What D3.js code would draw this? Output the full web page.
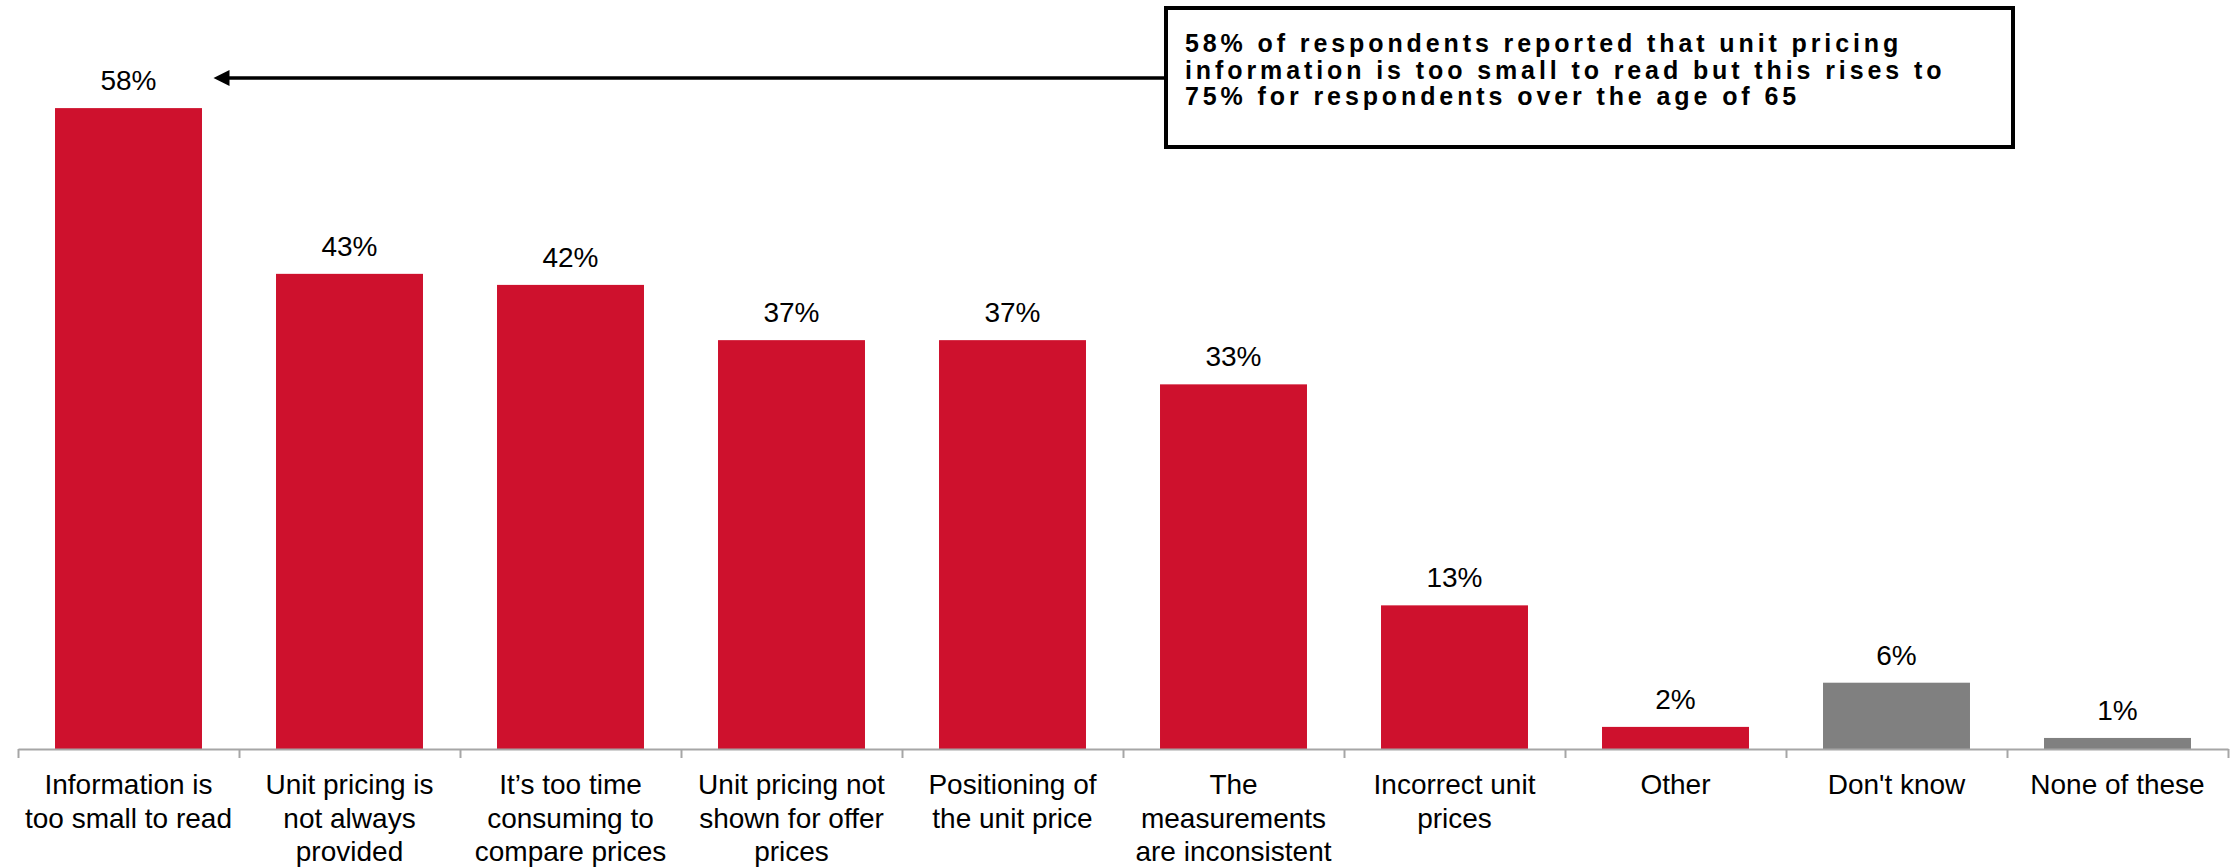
<!DOCTYPE html>
<html>
<head>
<meta charset="utf-8">
<script src="https://cdn.jsdelivr.net/npm/d3@7"></script>
<style>
  html, body { margin: 0; padding: 0; background: #ffffff; }
  svg { display: block; }
  text { font-family: "Liberation Sans", Arial, Helvetica, sans-serif; fill: #000; }
</style>
</head>
<body>
<svg id="chart" width="2239" height="868"></svg>
<script>
// Reasons given for problems with unit pricing (% of respondents)
const categories = [
  "Information is\ntoo small to read",
  "Unit pricing is\nnot always\nprovided",
  "It\u2019s too time\nconsuming to\ncompare prices",
  "Unit pricing not\nshown for offer\nprices",
  "Positioning of\nthe unit price",
  "The\nmeasurements\nare inconsistent",
  "Incorrect unit\nprices",
  "Other",
  "Don't know",
  "None of these"
];
const values = [58, 43, 42, 37, 37, 33, 13, 2, 6, 1];
// "Don't know" and "None of these" are non-answers, shown in grey
const nonAnswer = [false, false, false, false, false, false, false, false, true, true];
const calloutLines = [
  "58% of respondents reported that unit pricing",
  "information is too small to read but this rises to",
  "75% for respondents over the age of 65"
];

const RED = "#CE112D";
const GREY = "#808080";

const svg = d3.select("#chart");

const axisLeft = 18, axisRight = 2228, baseY = 749;

const x = d3.scaleBand()
  .domain(d3.range(categories.length))
  .range([axisLeft, axisRight])
  .paddingInner(0.335)
  .paddingOuter(0.1675);

const y = d3.scaleLinear().domain([0, 60]).range([baseY, 86]);

// Bars
svg.append("g").selectAll("rect")
  .data(values)
  .join("rect")
  .attr("x", (d, i) => x(i))
  .attr("width", x.bandwidth())
  .attr("y", d => y(d))
  .attr("height", d => y(0) - y(d))
  .attr("fill", (d, i) => nonAnswer[i] ? GREY : RED);

// Value labels
svg.append("g").selectAll("text")
  .data(values)
  .join("text")
  .attr("x", (d, i) => x(i) + x.bandwidth() / 2)
  .attr("y", d => y(d) - 18)
  .attr("text-anchor", "middle")
  .style("font-size", "28px")
  .text(d => d + "%");

// Category axis with ticks between categories
const xEdges = d3.scaleLinear().domain([0, categories.length]).range([axisLeft, axisRight]);
const axis = svg.append("g")
  .attr("transform", `translate(0,${baseY})`)
  .call(d3.axisBottom(xEdges)
    .tickValues(d3.range(categories.length + 1))
    .tickSize(9)
    .tickSizeOuter(0)
    .tickFormat(""));
axis.select(".domain").attr("stroke", "#A6A6A6").attr("stroke-width", 2);
axis.selectAll(".tick line").attr("stroke", "#A6A6A6").attr("stroke-width", 2);

// Category labels
const labels = svg.append("g").selectAll("text")
  .data(categories)
  .join("text")
  .attr("x", (d, i) => x(i) + x.bandwidth() / 2)
  .attr("y", 794)
  .attr("text-anchor", "middle")
  .style("font-size", "28px");
labels.each(function (d) {
  const t = d3.select(this);
  const cx = t.attr("x");
  d.split("\n").forEach((line, k) => {
    t.append("tspan").attr("x", cx).attr("dy", k === 0 ? 0 : 33.5).text(line);
  });
});

// Callout box
const box = { x: 1166, y: 8, w: 847, h: 139 };
svg.append("rect")
  .attr("x", box.x).attr("y", box.y)
  .attr("width", box.w).attr("height", box.h)
  .attr("fill", "#fff")
  .attr("stroke", "#000")
  .attr("stroke-width", 4);

svg.append("g").selectAll("text")
  .data(calloutLines)
  .join("text")
  .attr("x", 1185)
  .attr("y", (d, i) => 52 + i * 26.5)
  .style("font-size", "25px")
  .style("font-weight", "bold")
  .style("letter-spacing", "3.9px")
  .text(d => d);

// Arrow from the callout to the first bar's label
const arrowY = 78;
const tipX = x(0) + x.bandwidth() / 2 + 85;
svg.append("line")
  .attr("x1", box.x - 2).attr("y1", arrowY)
  .attr("x2", tipX + 14).attr("y2", arrowY)
  .attr("stroke", "#000")
  .attr("stroke-width", 3.5);
svg.append("path")
  .attr("d", `M${tipX},${arrowY} L${tipX + 16},${arrowY - 8} L${tipX + 16},${arrowY + 8} Z`)
  .attr("fill", "#000");
</script>
</body>
</html>
